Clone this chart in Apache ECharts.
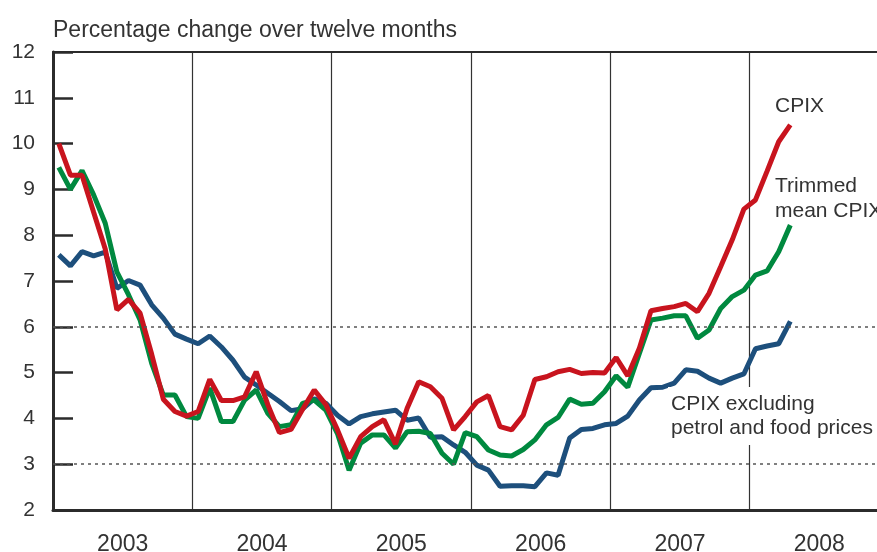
<!DOCTYPE html>
<html>
<head>
<meta charset="utf-8">
<script src="https://cdn.jsdelivr.net/npm/echarts@6/dist/echarts.min.js"></script>
<style>
  html, body { margin: 0; padding: 0; background: #fff; }
  #main { width: 877px; height: 552px; }
</style>
</head>
<body>
<div id="main"></div>
<script>
// monthly observations, Jan 2003 - Apr 2008
var cpix = [
    10.0, 9.31, 9.31, 8.5, 7.7, 6.37, 6.6, 6.3, 5.4, 4.42, 4.15, 4.05,
    4.15, 4.85, 4.39, 4.39, 4.47, 5.02, 4.3, 3.69, 3.76, 4.2, 4.62, 4.3,
    3.75, 3.13, 3.6, 3.82, 3.97, 3.44, 4.22, 4.8, 4.69, 4.44, 3.75, 4.04,
    4.36, 4.5, 3.82, 3.75, 4.07, 4.85, 4.91, 5.02, 5.07, 4.98, 5.0, 4.99,
    5.33, 4.93, 5.53, 6.35, 6.4, 6.44, 6.51, 6.33, 6.73, 7.31, 7.9, 8.57,
    8.77, 9.4, 10.04, 10.41
];
var trimmed = [
    9.48, 9.0, 9.41, 8.88, 8.26, 7.2, 6.7, 6.15, 5.2, 4.51, 4.51, 4.04,
    4.0, 4.66, 3.93, 3.93, 4.4, 4.62, 4.11, 3.82, 3.86, 4.33, 4.4, 4.18,
    3.67, 2.87, 3.46, 3.64, 3.64, 3.35, 3.71, 3.72, 3.67, 3.24, 3.0, 3.69,
    3.6, 3.31, 3.2, 3.18, 3.32, 3.53, 3.86, 4.02, 4.42, 4.31, 4.33, 4.58,
    4.93, 4.68, 5.42, 6.15, 6.19, 6.24, 6.24, 5.75, 5.93, 6.4, 6.66, 6.8,
    7.13, 7.22, 7.64, 8.22
];
var excl = [
    7.57, 7.33, 7.64, 7.55, 7.63, 6.84, 7.01, 6.91, 6.48, 6.19, 5.84, 5.73,
    5.63, 5.8, 5.56, 5.27, 4.9, 4.73, 4.55, 4.37, 4.17, 4.21, 4.43, 4.33,
    4.07, 3.88, 4.04, 4.1, 4.14, 4.18, 3.96, 4.01, 3.59, 3.6, 3.42, 3.26,
    2.98, 2.87, 2.52, 2.53, 2.53, 2.51, 2.81, 2.76, 3.57, 3.76, 3.78, 3.86,
    3.89, 4.05, 4.4, 4.67, 4.68, 4.77, 5.06, 5.03, 4.88, 4.77, 4.88, 4.97,
    5.52, 5.58, 5.63, 6.12
];
var firstYear = 2003;
var refLines = [3, 6];

var font = 'Liberation Sans';
var ink = '#333';

// month i is drawn in the middle of its month
function toPoints(arr) {
    return arr.map(function (v, i) { return [i + 0.5, v]; });
}

var option = {
    animation: false,
    textStyle: { fontFamily: font },
    title: {
        text: 'Percentage change over twelve months',
        left: 48,
        top: 14,
        textStyle: { fontSize: 23, fontWeight: 'normal', color: ink, fontFamily: font }
    },
    // the 2008 year runs past the right edge of the picture
    grid: { left: 53, right: -12, top: 52, bottom: 42, outerBoundsMode: 'none', containLabel: false },
    xAxis: [{
        type: 'value',
        min: 0,
        max: 72,
        interval: 6,
        position: 'bottom',
        axisLine: { show: true, lineStyle: { color: '#2b2b2b', width: 3 } },
        axisTick: { show: false },
        splitLine: { show: false },
        axisLabel: {
            margin: 23,
            fontSize: 23,
            color: ink,
            formatter: function (v) {
                return v % 12 === 6 ? String(firstYear + (v - 6) / 12) : '';
            }
        }
    }, {
        type: 'value',
        min: 0,
        max: 72,
        interval: 12,
        position: 'top',
        axisLine: { show: true, lineStyle: { color: '#2b2b2b', width: 2 } },
        axisTick: { show: false },
        axisLabel: { show: false },
        splitLine: { show: true, lineStyle: { color: '#333', width: 1.2 } }
    }],
    yAxis: {
        type: 'value',
        min: 2,
        max: 12,
        interval: 1,
        axisLine: { show: true, lineStyle: { color: '#2b2b2b', width: 3 } },
        axisTick: { show: true, inside: true, length: 20, lineStyle: { color: '#2b2b2b', width: 2.5 } },
        splitLine: { show: false },
        axisLabel: { fontSize: 21, color: ink, margin: 18 }
    },
    series: [{
        name: 'CPIX excluding petrol and food prices',
        type: 'line',
        data: toPoints(excl),
        showSymbol: false,
        lineStyle: { color: '#1d4f7c', width: 5 },
        markLine: {
            silent: true,
            symbol: 'none',
            label: { show: false },
            lineStyle: { color: '#555', width: 1.5, type: [3, 4] },
            data: refLines.map(function (v) { return { yAxis: v }; })
        }
    }, {
        name: 'Trimmed mean CPIX',
        type: 'line',
        data: toPoints(trimmed),
        showSymbol: false,
        lineStyle: { color: '#00893f', width: 5 }
    }, {
        name: 'CPIX',
        type: 'line',
        data: toPoints(cpix),
        showSymbol: false,
        lineStyle: { color: '#c8141e', width: 5 }
    }],
    graphic: [{
        type: 'text', left: 775, top: 96, z: 10,
        style: { text: 'CPIX', fontSize: 21, fill: ink, fontFamily: font }
    }, {
        type: 'text', left: 775, top: 174, z: 10,
        style: { text: 'Trimmed\nmean CPIX', fontSize: 21, lineHeight: 25, fill: ink, fontFamily: font }
    }, {
        type: 'text', left: 668, top: 387, z: 10,
        style: {
            text: 'CPIX excluding\npetrol and food prices', fontSize: 21, lineHeight: 24,
            fill: ink, fontFamily: font, backgroundColor: '#fff', padding: [5, 3]
        }
    }]
};

var chart = echarts.init(document.getElementById('main'));
chart.setOption(option);
</script>
</body>
</html>
